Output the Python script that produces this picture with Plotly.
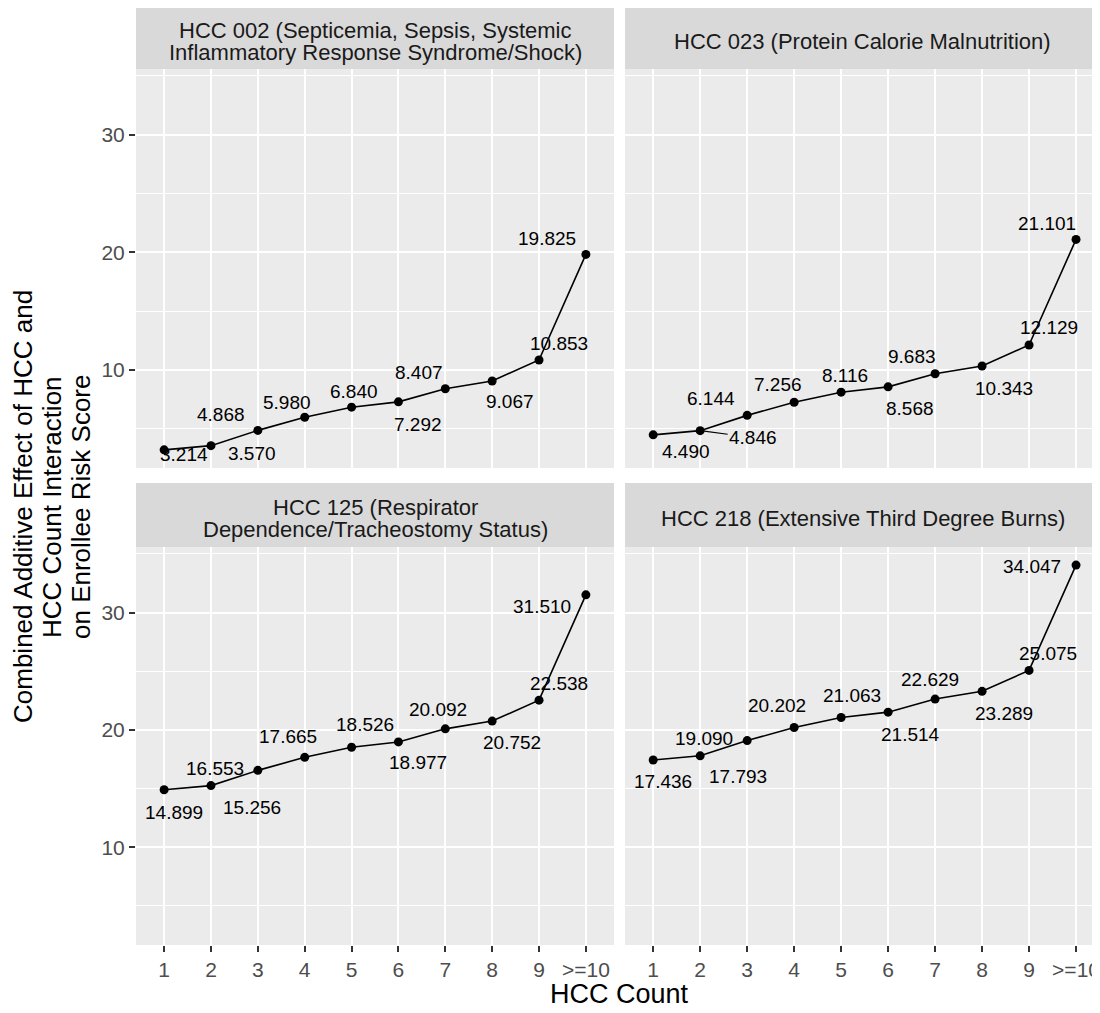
import plotly.graph_objects as go

# HCC count categories (x axis)
hcc_count = ["1", "2", "3", "4", "5", "6", "7", "8", "9", ">=10"]

panel_titles = [
    "HCC 002 (Septicemia, Sepsis, Systemic\nInflammatory Response Syndrome/Shock)",
    "HCC 023 (Protein Calorie Malnutrition)",
    "HCC 125 (Respirator\nDependence/Tracheostomy Status)",
    "HCC 218 (Extensive Third Degree Burns)",
]

# combined additive effect on enrollee risk score
hcc002 = [3.214, 3.570, 4.868, 5.980, 6.840, 7.292, 8.407, 9.067, 10.853, 19.825]
hcc023 = [4.490, 4.846, 6.144, 7.256, 8.116, 8.568, 9.683, 10.343, 12.129, 21.101]
hcc125 = [14.899, 15.256, 16.553, 17.665, 18.526, 18.977, 20.092, 20.752, 22.538, 31.510]
hcc218 = [17.436, 17.793, 19.090, 20.202, 21.063, 21.514, 22.629, 23.289, 25.075, 34.047]

y_ticks = [10, 20, 30]

panel_values = [hcc002, hcc023, hcc125, hcc218]

# label nudges in pixels (mimic ggrepel placement), positive dy = down
label_dx = [
    [20, 41, -37, -18, 2, 20, -26, 18, 20, -39],
    [33, 53, -36, -16, 4, 22, -23, 22, 20, -29],
    [10, 41, -43, -17, 13, 20, -7, 20, 20, -44],
    [10, 38, -43, -17, 11, 22, -5, 22, 19, -44],
]
label_dy = [
    [5, 8, -16, -15, -16, 23, -16, 21, -16, -16],
    [17, 7, -17, -18, -17, 22, -17, 23, -17, -16],
    [23, 22, -2, -21, -23, 21, -19, 21, -17, 12],
    [21, 21, -2, -22, -22, 22, -20, 22, -17, 1],
]
label_segments = {(1, 1)}

# the page puts the plot 8px in from the window corner
OFF = 8
W, H = 1100 - OFF, 1013 - OFF
FONT = "Liberation Sans, Arial, sans-serif"
PANEL_BG = "#EBEBEB"
STRIP_BG = "#D9D9D9"


def px_x(v):
    return max(v - OFF, 0) / W


def px_y(v):
    return 1 - max(v - OFF, 0) / H


# panel boxes in window pixels
col_px = [(136, 614), (625, 1100)]
row_px = [(69, 468), (547, 945)]
strip_px = [(4, 69), (483, 547)]
strip_text_nudge = [5, 3]
x_ranges = [[-0.6, 9.6], [-0.6, 9.51]]
y_range = [1.67, 35.59]

fig = go.Figure()
annotations = []
shapes = []
layout = {}

for p, vals in enumerate(panel_values):
    r, c = divmod(p, 2)
    n = "" if p == 0 else str(p + 1)
    left, right = col_px[c]
    top, bottom = row_px[r]

    fig.add_trace(go.Scatter(
        x=hcc_count, y=vals, xaxis="x" + n, yaxis="y" + n,
        mode="lines+markers",
        line=dict(color="black", width=1.6),
        marker=dict(color="black", size=9),
        hoverinfo="x+y", showlegend=False,
    ))

    layout["xaxis" + n] = dict(
        domain=[px_x(left), px_x(right)], anchor="y" + n,
        type="category", categoryorder="array", categoryarray=hcc_count,
        range=x_ranges[c], showgrid=True, gridcolor="white", gridwidth=2,
        zeroline=False, showline=False,
        ticks="outside" if r == 1 else "", ticklen=6, tickwidth=2, tickcolor="#333333",
        showticklabels=(r == 1),
        tickfont=dict(family=FONT, size=21, color="#4D4D4D"),
    )
    layout["yaxis" + n] = dict(
        domain=[px_y(bottom), px_y(top)], anchor="x" + n,
        range=y_range, tickvals=y_ticks, showgrid=True, gridcolor="white", gridwidth=2,
        minor=dict(tick0=0, dtick=5, showgrid=True, gridcolor="white", gridwidth=1, ticks=""),
        zeroline=False, showline=False,
        ticks="outside" if c == 0 else "", ticklen=6, tickwidth=2, tickcolor="#333333",
        showticklabels=(c == 0),
        tickfont=dict(family=FONT, size=21, color="#4D4D4D"),
    )

    # panel background
    shapes.append(dict(type="rect", xref="paper", yref="paper", layer="below",
                       x0=px_x(left), x1=px_x(right), y0=px_y(bottom), y1=px_y(top),
                       fillcolor=PANEL_BG, line=dict(width=0)))
    # strip
    s_top, s_bot = strip_px[r]
    shapes.append(dict(type="rect", xref="paper", yref="paper",
                       x0=px_x(left), x1=px_x(right), y0=px_y(s_bot), y1=px_y(s_top),
                       fillcolor=STRIP_BG, line=dict(width=0)))
    lines = panel_titles[p].split("\n")
    for k, line in enumerate(lines):
        shift = (len(lines) - 1) * 11 - k * 22
        annotations.append(dict(
            x=px_x((left + right) / 2),
            y=px_y((s_top + s_bot) / 2 + strip_text_nudge[r]),
            xref="paper", yref="paper", text=line, showarrow=False,
            xanchor="center", yanchor="middle", yshift=shift,
            font=dict(family=FONT, size=22, color="#1A1A1A"),
        ))

    # value labels (x given as category index)
    for i, v in enumerate(vals):
        seg = (p, i) in label_segments
        annotations.append(dict(
            x=i, y=v, xref="x" + n, yref="y" + n,
            text="{:.3f}".format(v), showarrow=True,
            ax=label_dx[p][i], ay=label_dy[p][i],
            arrowhead=0, arrowwidth=1.2, standoff=4,
            arrowcolor="black" if seg else "rgba(0,0,0,0)",
            font=dict(family=FONT, size=19, color="black"),
        ))

# axis titles
annotations.append(dict(
    x=px_x(619), y=px_y(994), xref="paper", yref="paper",
    text="HCC Count", showarrow=False, xanchor="center", yanchor="middle",
    font=dict(family=FONT, size=27, color="black"),
))
ytitle = ["Combined Additive Effect of HCC and",
          "HCC Count Interaction",
          "on Enrollee Risk Score"]
for k, line in enumerate(ytitle):
    annotations.append(dict(
        x=px_x(23 + k * 29), y=px_y(507), xref="paper", yref="paper",
        text=line, showarrow=False, textangle=-90,
        xanchor="center", yanchor="middle",
        font=dict(family=FONT, size=26, color="black"),
    ))

fig.update_layout(
    width=W, height=H,
    margin=dict(l=0, r=0, t=0, b=0),
    paper_bgcolor="white", plot_bgcolor=PANEL_BG,
    font=dict(family=FONT),
    shapes=shapes, annotations=annotations,
    showlegend=False,
    **layout,
)

fig.write_html("out.html")
